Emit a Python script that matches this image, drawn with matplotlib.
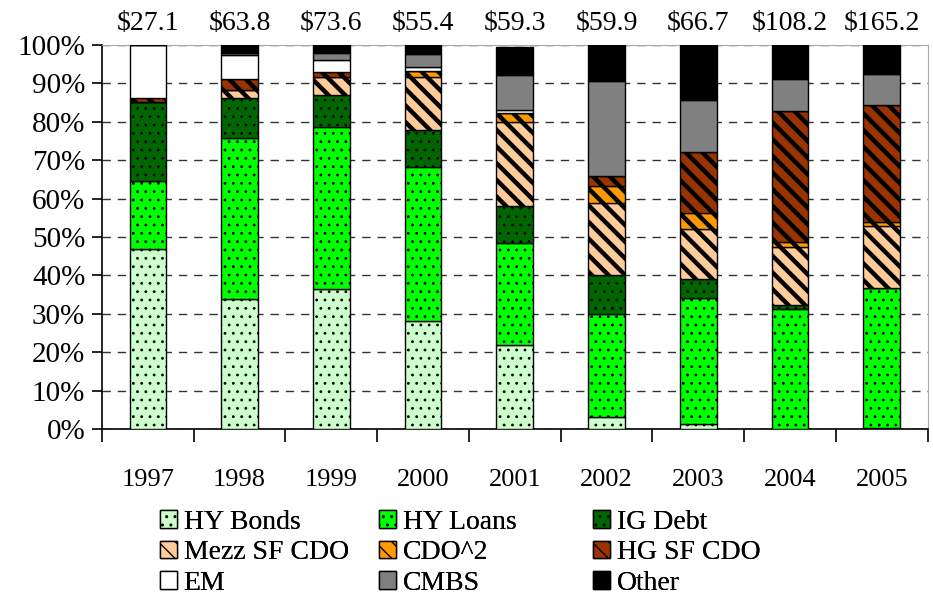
import numpy as np
import matplotlib
matplotlib.use('Agg')
import matplotlib.pyplot as plt
from matplotlib.patches import Patch

plt.rcParams.update({
    'font.family': ['Liberation Serif', 'DejaVu Serif'],
    'font.size': 20,
})

years = ['1997', '1998', '1999', '2000', '2001', '2002', '2003', '2004', '2005']
totals = ['$27.1', '$63.8', '$73.6', '$55.4', '$59.3', '$59.9', '$66.7', '$108.2', '$165.2']

# share of issuance by collateral type, %
hy_bonds = [46.9, 33.9, 36.5, 28.1, 21.9, 3.0, 1.3, 0.0, 0.3]
hy_loans = [17.7, 41.8, 42.2, 40.2, 26.6, 26.9, 32.7, 31.2, 36.3]
ig_debt  = [20.6, 10.4, 8.2, 9.6, 9.6, 10.2, 5.0, 1.1, 0.0]
mezz_sf  = [0.0, 2.2, 4.8, 13.9, 21.9, 18.8, 13.2, 15.2, 16.3]
cdo_sq   = [0.0, 0.0, 0.0, 1.4, 2.2, 4.5, 4.1, 1.1, 1.1]
hg_sf    = [0.9, 2.9, 1.4, 0.0, 0.0, 2.5, 15.8, 34.3, 30.4]
em       = [13.9, 6.3, 2.9, 1.0, 1.0, 0.0, 0.0, 0.0, 0.0]
cmbs     = [0.0, 0.5, 2.0, 3.6, 8.9, 24.8, 13.6, 8.2, 8.0]
other    = [0.0, 2.0, 2.0, 2.2, 7.5, 9.3, 14.3, 8.9, 7.6]

series = [
    ('HY Bonds', hy_bonds, '#CCFFCC', '..'),
    ('HY Loans', hy_loans, '#00FF00', '..'),
    ('IG Debt', ig_debt, '#006600', '..'),
    ('Mezz SF CDO', mezz_sf, '#FFCC99', '\\\\'),
    ('CDO^2', cdo_sq, '#FF9900', '\\\\'),
    ('HG SF CDO', hg_sf, '#993300', '\\\\'),
    ('EM', em, '#FFFFFF', None),
    ('CMBS', cmbs, '#808080', None),
    ('Other', other, '#000000', None),
]

def hatch_lw(hatch):
    return 0.8 if hatch == '..' else 3.2

fig = plt.figure(figsize=(9.33, 5.98), dpi=100)
ax = fig.add_axes([0.1093, 0.2826, 0.885, 0.642])

x = np.arange(len(years))
bottom = np.zeros(len(years))
handles = {}
for name, vals, color, hatch in series:
    vals = np.array(vals)
    with plt.rc_context({'hatch.linewidth': hatch_lw(hatch)}):
        ax.bar(x, vals, 0.40, bottom=bottom, color=color, edgecolor='black',
               linewidth=1.0, hatch=hatch, zorder=3)
        handles[name] = Patch(facecolor=color, edgecolor='black', hatch=hatch,
                              linewidth=1.0)
    bottom += vals

ax.set_xlim(-0.5, len(years) - 0.5)
ax.set_ylim(0, 100)
ax.set_yticks(np.arange(0, 101, 10))
ax.set_yticklabels([f'{v}%' for v in range(0, 101, 10)], fontsize=21)
ax.yaxis.grid(True, ls=(0, (6, 5)), color='#333333', lw=1.0, zorder=0)

ax.set_xticks(x)
ax.set_xticklabels(years, fontsize=19)
ax.set_xticks(np.arange(-0.5, len(years), 1), minor=True)
ax.tick_params(axis='x', which='major', length=0, pad=29)
ax.tick_params(axis='x', which='minor', length=9, width=1.2, direction='out')
ax.tick_params(axis='y', length=7, width=1.2, direction='out', pad=5)

ax.spines['top'].set_color('#AAAAAA')
ax.spines['right'].set_color('#AAAAAA')
ax.spines['left'].set_linewidth(1.2)
ax.spines['bottom'].set_linewidth(1.2)

for xi, t in zip(x, totals):
    ax.text(xi, 1.055, t, transform=ax.get_xaxis_transform(), ha='center',
            va='center', fontsize=20)

# legend: three columns at fixed positions, filled row by row
legend_cols = [['HY Bonds', 'Mezz SF CDO', 'EM'],
               ['HY Loans', 'CDO^2', 'CMBS'],
               ['IG Debt', 'HG SF CDO', 'Other']]
col_x = [160, 379, 593]
for names, cx in zip(legend_cols, col_x):
    lg = fig.legend([handles[n] for n in names], names, loc='upper left',
                    bbox_to_anchor=(cx / 933, 1 - 510 / 598),
                    bbox_transform=fig.transFigure, frameon=False,
                    handlelength=0.6, handleheight=0.6, handletextpad=0.25,
                    labelspacing=0.19, borderpad=0, borderaxespad=0, fontsize=20)
    fig.add_artist(lg)

fig.savefig('out.png', dpi=100)
